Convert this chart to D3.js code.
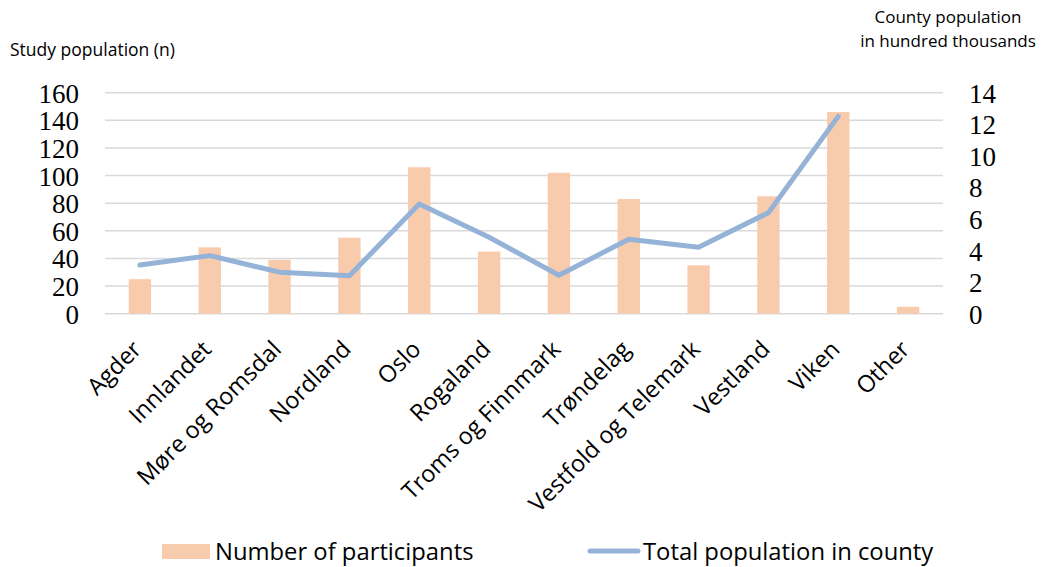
<!DOCTYPE html>
<html>
<head>
<meta charset="utf-8">
<script src="https://cdn.jsdelivr.net/npm/d3@7"></script>
<style>
  body { margin: 0; background: #fff; }
  svg { display: block; }
</style>
</head>
<body>
<div id="chart"></div>
<script>
// data
const counties = ["Agder", "Innlandet", "Møre og Romsdal", "Nordland", "Oslo", "Rogaland",
  "Troms og Finnmark", "Trøndelag", "Vestfold og Telemark", "Vestland", "Viken", "Other"];
const participants = [25, 48, 39, 55, 106, 45, 102, 83, 35, 85, 146, 5];
// county population, hundred thousands (no value for "Other")
const countyPopulation = [3.08, 3.68, 2.63, 2.41, 6.95, 4.84, 2.44, 4.71, 4.21, 6.40, 12.5, null];
const leftTicks = [0, 20, 40, 60, 80, 100, 120, 140, 160];
const rightTicks = [0, 2, 4, 6, 8, 10, 12, 14];

const width = 1041, height = 567;
const plot = { left: 105, right: 943, top: 92.7, bottom: 313.7 };
const sans = "'Open Sans', sans-serif";
const serif = "'Liberation Serif', serif";
const lineColor = "#95b3d7";

const svg = d3.select("#chart").append("svg")
  .attr("width", width)
  .attr("height", height);

const x = d3.scaleBand().domain(counties).range([plot.left, plot.right]).paddingInner(0.68).paddingOuter(0.34);
const xc = d => x(d) + x.bandwidth() / 2;
const yL = d3.scaleLinear().domain([0, 160]).range([plot.bottom, plot.top]);
const yR = d3.scaleLinear().domain([0, 14]).range([plot.bottom, plot.top]);

// gridlines
svg.append("g")
  .selectAll("line")
  .data(leftTicks)
  .join("line")
  .attr("x1", plot.left).attr("x2", plot.right)
  .attr("y1", d => yL(d)).attr("y2", d => yL(d))
  .attr("stroke", "#d9d9d9")
  .attr("stroke-width", 1.5);

// left axis
const leftAxis = svg.append("g")
  .attr("transform", `translate(${plot.left - 26},0)`)
  .call(d3.axisLeft(yL).tickValues(leftTicks).tickSize(0).tickPadding(0));
leftAxis.select(".domain").remove();
leftAxis.selectAll("text")
  .attr("font-family", serif)
  .attr("font-size", 27)
  .attr("fill", "#000")
  .attr("dy", "0.35em");

// right axis
const rightAxis = svg.append("g")
  .attr("transform", `translate(${plot.right + 26},0)`)
  .call(d3.axisRight(yR).tickValues(rightTicks).tickSize(0).tickPadding(0));
rightAxis.select(".domain").remove();
rightAxis.selectAll("text")
  .attr("font-family", serif)
  .attr("font-size", 27)
  .attr("fill", "#000")
  .attr("dy", "0.35em");

// bars
svg.append("g")
  .selectAll("rect")
  .data(counties)
  .join("rect")
  .attr("x", d => x(d))
  .attr("width", x.bandwidth())
  .attr("y", (d, i) => yL(participants[i]))
  .attr("height", (d, i) => plot.bottom - yL(participants[i]))
  .attr("fill", "#f8cbad");

// population line
const lineData = counties.map((c, i) => ({ c, v: countyPopulation[i] })).filter(d => d.v != null);
svg.append("path")
  .datum(lineData)
  .attr("fill", "none")
  .attr("stroke", lineColor)
  .attr("stroke-width", 5)
  .attr("stroke-linejoin", "round")
  .attr("stroke-linecap", "round")
  .attr("d", d3.line().x(d => xc(d.c)).y(d => yR(d.v)));

// category labels
svg.append("g")
  .selectAll("text")
  .data(counties)
  .join("text")
  .attr("transform", d => `translate(${xc(d) + 3},${plot.bottom + 37}) rotate(-45)`)
  .attr("text-anchor", "end")
  .attr("font-family", sans)
  .attr("font-size", 23.5)
  .attr("fill", "#000")
  .text(d => d);

// axis titles
svg.append("text")
  .attr("x", 10).attr("y", 56)
  .attr("font-family", sans).attr("font-size", 17.5)
  .text("Study population (n)");

svg.append("text")
  .attr("x", 948).attr("y", 23)
  .attr("text-anchor", "middle")
  .attr("font-family", sans).attr("font-size", 17)
  .text("County population");
svg.append("text")
  .attr("x", 948).attr("y", 47)
  .attr("text-anchor", "middle")
  .attr("font-family", sans).attr("font-size", 17)
  .text("in hundred thousands");

// legend
const legend = svg.append("g").attr("font-family", sans).attr("font-size", 23.8);
legend.append("rect")
  .attr("x", 162).attr("y", 544).attr("width", 48).attr("height", 15)
  .attr("fill", "#f8cbad");
legend.append("text")
  .attr("x", 215).attr("y", 560)
  .text("Number of participants");
legend.append("line")
  .attr("x1", 590).attr("x2", 638).attr("y1", 551).attr("y2", 551)
  .attr("stroke", lineColor).attr("stroke-width", 5).attr("stroke-linecap", "round");
legend.append("text")
  .attr("x", 643).attr("y", 560)
  .text("Total population in county");
</script>
</body>
</html>
